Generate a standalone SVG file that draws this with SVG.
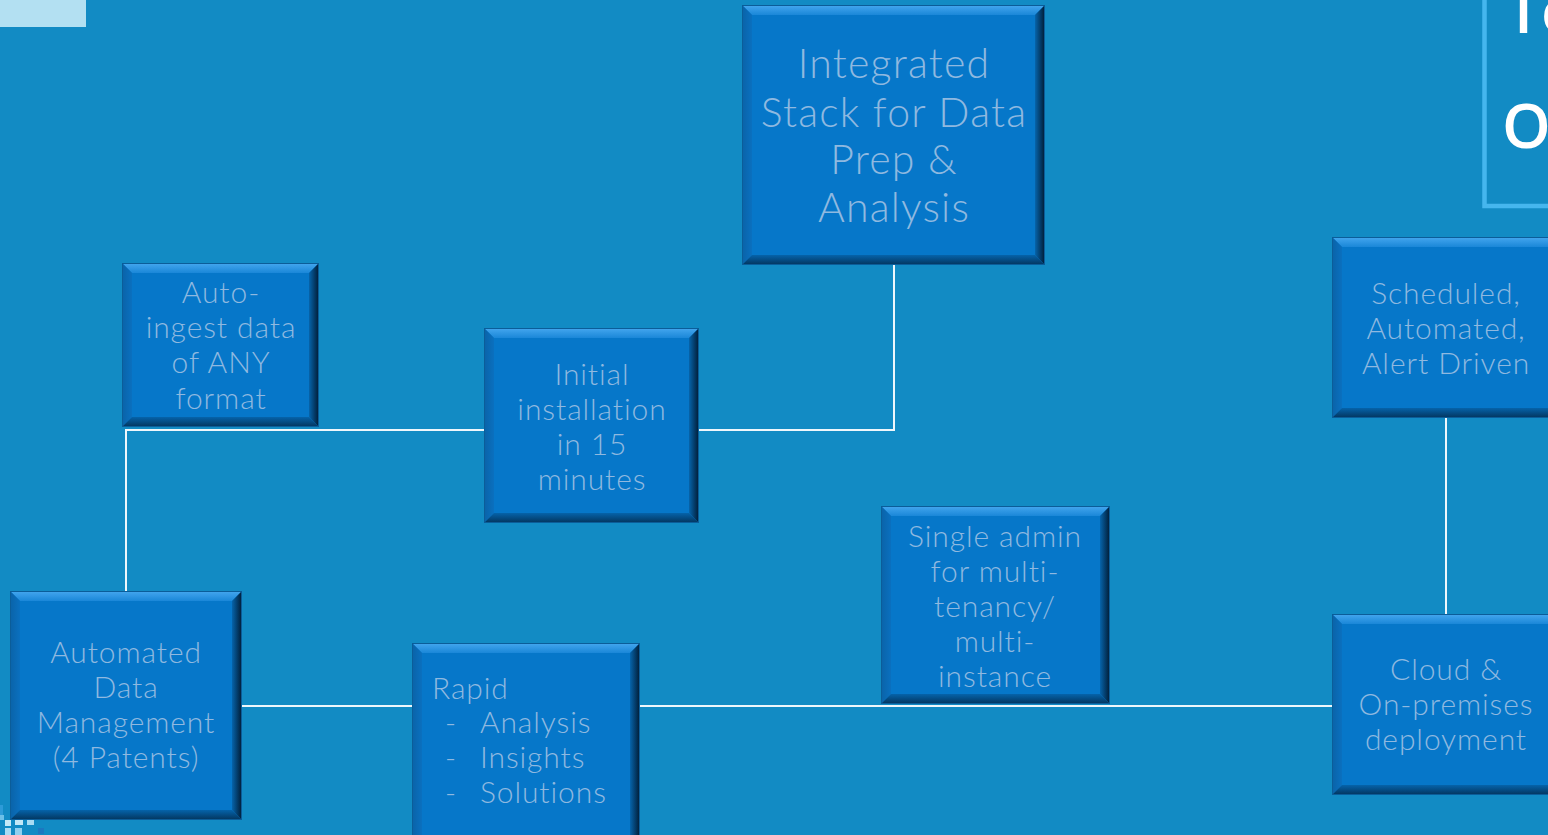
<svg xmlns="http://www.w3.org/2000/svg" width="1548" height="835" viewBox="0 0 1548 835">
  <style>
    .face { fill: #0677c9; }
    .bt { fill: url(#gTop); }
    .bl { fill: url(#gLeft); }
    .br { fill: url(#gRight); }
    .bb { fill: url(#gBottom); }
    .edge { fill: none; stroke: #0b5d99; stroke-width: 1; }
    .lbl { font-family: Lato, "Open Sans", sans-serif; font-weight: 300; font-size: 30px; letter-spacing: 0.9px; fill: #8fb9e0; text-anchor: middle; }
    .lblL { font-family: Lato, "Open Sans", sans-serif; font-weight: 300; font-size: 30px; letter-spacing: 0.9px; fill: #8fb9e0; }
    .big { font-size: 41px; letter-spacing: 1.2px; }
    .conn { fill: none; stroke: #eef7fc; stroke-width: 2; }
    .title { font-family: "Open Sans", sans-serif; font-weight: 600; font-size: 62px; fill: #ffffff; }
  </style>
  <defs>
    <linearGradient id="gTop" x1="0" y1="0" x2="0" y2="1">
      <stop offset="0" stop-color="#45a7ef"/>
      <stop offset="1" stop-color="#1a87d8"/>
    </linearGradient>
    <linearGradient id="gLeft" x1="0" y1="0" x2="1" y2="0">
      <stop offset="0" stop-color="#0a63a8"/>
      <stop offset="1" stop-color="#0a70bf"/>
    </linearGradient>
    <linearGradient id="gRight" x1="0" y1="0" x2="1" y2="0">
      <stop offset="0" stop-color="#0664ab"/>
      <stop offset="1" stop-color="#011a32"/>
    </linearGradient>
    <linearGradient id="gBottom" x1="0" y1="0" x2="0" y2="1">
      <stop offset="0" stop-color="#0563aa"/>
      <stop offset="1" stop-color="#03345c"/>
    </linearGradient>
  </defs>

  <!-- backdrop -->
  <rect x="0" y="0" width="1548" height="835" fill="#128bc4"/>
  <rect x="0" y="0" width="86" height="27" fill="#b3e0f2"/>

  <!-- pixel accents, lower left -->
  <g id="pixels">
    <rect x="0" y="805" width="3" height="10" fill="#2d9bd8"/>
    <rect x="0" y="815" width="4" height="5" fill="#6cc0e8"/>
    <rect x="5" y="820" width="6" height="6" fill="#c3e8f7"/>
    <rect x="15" y="820" width="8" height="5" fill="#c3e8f7"/>
    <rect x="27" y="820" width="7" height="5" fill="#a9dcf3"/>
    <rect x="5" y="828" width="6" height="7" fill="#a9dcf3"/>
    <rect x="15" y="828" width="7" height="7" fill="#8fd0ef"/>
    <rect x="38" y="828" width="6" height="6" fill="#1c78c0"/>
  </g>

  <!-- partially visible heading frame -->
  <g id="heading">
    <rect x="1484.5" y="-10" width="120" height="216" fill="none" stroke="#45b6ee" stroke-width="4.5"/>
    <text class="title" x="1506" y="33">To</text>
    <text class="title" x="1502" y="148">O</text>
  </g>

  <!-- connectors -->
  <g id="connectors">
    <path class="conn" d="M894,265 V430 H699"/>
    <path class="conn" d="M484,430 H126 V591"/>
    <path class="conn" d="M242,706 H412"/>
    <path class="conn" d="M640,706 H1332"/>
    <path class="conn" d="M1446,418 V614"/>
  </g>

  <!-- Integrated stack -->
  <g id="node-integrated">
    <rect class="face" x="742" y="5" width="303" height="260"/>
    <polygon class="bt" points="742,5 1045,5 1035,15 752,15"/>
    <polygon class="bl" points="742,5 752,15 752,255 742,265"/>
    <polygon class="br" points="1045,5 1045,265 1035,255 1035,15"/>
    <polygon class="bb" points="742,265 752,255 1035,255 1045,265"/>
    <rect class="edge" x="742.5" y="5.5" width="302" height="259"/>
    <text class="lbl big" x="894" y="78">Integrated</text>
    <text class="lbl big" x="894" y="127">Stack for Data</text>
    <text class="lbl big" x="894" y="174">Prep &amp;</text>
    <text class="lbl big" x="894" y="222">Analysis</text>
  </g>

  <!-- Auto-ingest -->
  <g id="node-ingest">
    <rect class="face" x="122" y="263" width="197" height="164"/>
    <polygon class="bt" points="122,263 319,263 309,273 132,273"/>
    <polygon class="bl" points="122,263 132,273 132,417 122,427"/>
    <polygon class="br" points="319,263 319,427 309,417 309,273"/>
    <polygon class="bb" points="122,427 132,417 309,417 319,427"/>
    <rect class="edge" x="122.5" y="263.5" width="196" height="163"/>
    <text class="lbl" x="221" y="303">Auto-</text>
    <text class="lbl" x="221" y="338">ingest data</text>
    <text class="lbl" x="221" y="373">of ANY</text>
    <text class="lbl" x="221" y="409">format</text>
  </g>

  <!-- Initial installation -->
  <g id="node-install">
    <rect class="face" x="484" y="328" width="215" height="195"/>
    <polygon class="bt" points="484,328 699,328 689,338 494,338"/>
    <polygon class="bl" points="484,328 494,338 494,513 484,523"/>
    <polygon class="br" points="699,328 699,523 689,513 689,338"/>
    <polygon class="bb" points="484,523 494,513 689,513 699,523"/>
    <rect class="edge" x="484.5" y="328.5" width="214" height="194"/>
    <text class="lbl" x="592" y="385">Initial</text>
    <text class="lbl" x="592" y="420">installation</text>
    <text class="lbl" x="592" y="455">in 15</text>
    <text class="lbl" x="592" y="490">minutes</text>
  </g>

  <!-- Rapid -->
  <g id="node-rapid">
    <rect class="face" x="412" y="643" width="228" height="202"/>
    <polygon class="bt" points="412,643 640,643 630,653 422,653"/>
    <polygon class="bl" points="412,643 422,653 422,835 412,845"/>
    <polygon class="br" points="640,643 640,845 630,835 630,653"/>
    <polygon class="bb" points="412,845 422,835 630,835 640,845"/>
    <rect class="edge" x="412.5" y="643.5" width="227" height="201"/>
    <text class="lblL" x="432" y="699">Rapid</text>
    <text class="lblL" x="445" y="733">-</text>
    <text class="lblL" x="480" y="733">Analysis</text>
    <text class="lblL" x="445" y="768">-</text>
    <text class="lblL" x="480" y="768">Insights</text>
    <text class="lblL" x="445" y="803">-</text>
    <text class="lblL" x="480" y="803">Solutions</text>
  </g>

  <!-- Single admin -->
  <g id="node-admin">
    <rect class="face" x="881" y="506" width="229" height="198"/>
    <polygon class="bt" points="881,506 1110,506 1100,516 891,516"/>
    <polygon class="bl" points="881,506 891,516 891,694 881,704"/>
    <polygon class="br" points="1110,506 1110,704 1100,694 1100,516"/>
    <polygon class="bb" points="881,704 891,694 1100,694 1110,704"/>
    <rect class="edge" x="881.5" y="506.5" width="228" height="197"/>
    <text class="lbl" x="995" y="547">Single admin</text>
    <text class="lbl" x="995" y="582">for multi-</text>
    <text class="lbl" x="995" y="617">tenancy/</text>
    <text class="lbl" x="995" y="652">multi-</text>
    <text class="lbl" x="995" y="687">instance</text>
  </g>

  <!-- Automated Data Management -->
  <g id="node-adm">
    <rect class="face" x="10" y="591" width="232" height="229"/>
    <polygon class="bt" points="10,591 242,591 232,601 20,601"/>
    <polygon class="bl" points="10,591 20,601 20,810 10,820"/>
    <polygon class="br" points="242,591 242,820 232,810 232,601"/>
    <polygon class="bb" points="10,820 20,810 232,810 242,820"/>
    <rect class="edge" x="10.5" y="591.5" width="231" height="228"/>
    <text class="lbl" x="126" y="663">Automated</text>
    <text class="lbl" x="126" y="698">Data</text>
    <text class="lbl" x="126" y="733">Management</text>
    <text class="lbl" x="126" y="768">(4 Patents)</text>
  </g>

  <!-- Scheduled -->
  <g id="node-scheduled">
    <rect class="face" x="1332" y="237" width="228" height="181"/>
    <polygon class="bt" points="1332,237 1560,237 1550,247 1342,247"/>
    <polygon class="bl" points="1332,237 1342,247 1342,408 1332,418"/>
    <polygon class="br" points="1560,237 1560,418 1550,408 1550,247"/>
    <polygon class="bb" points="1332,418 1342,408 1550,408 1560,418"/>
    <rect class="edge" x="1332.5" y="237.5" width="227" height="180"/>
    <text class="lbl" x="1446" y="304">Scheduled,</text>
    <text class="lbl" x="1446" y="339">Automated,</text>
    <text class="lbl" x="1446" y="374">Alert Driven</text>
  </g>

  <!-- Cloud -->
  <g id="node-cloud">
    <rect class="face" x="1332" y="614" width="228" height="181"/>
    <polygon class="bt" points="1332,614 1560,614 1550,624 1342,624"/>
    <polygon class="bl" points="1332,614 1342,624 1342,785 1332,795"/>
    <polygon class="br" points="1560,614 1560,795 1550,785 1550,624"/>
    <polygon class="bb" points="1332,795 1342,785 1550,785 1560,795"/>
    <rect class="edge" x="1332.5" y="614.5" width="227" height="180"/>
    <text class="lbl" x="1446" y="680">Cloud &amp;</text>
    <text class="lbl" x="1446" y="715">On-premises</text>
    <text class="lbl" x="1446" y="750">deployment</text>
  </g>
</svg>
